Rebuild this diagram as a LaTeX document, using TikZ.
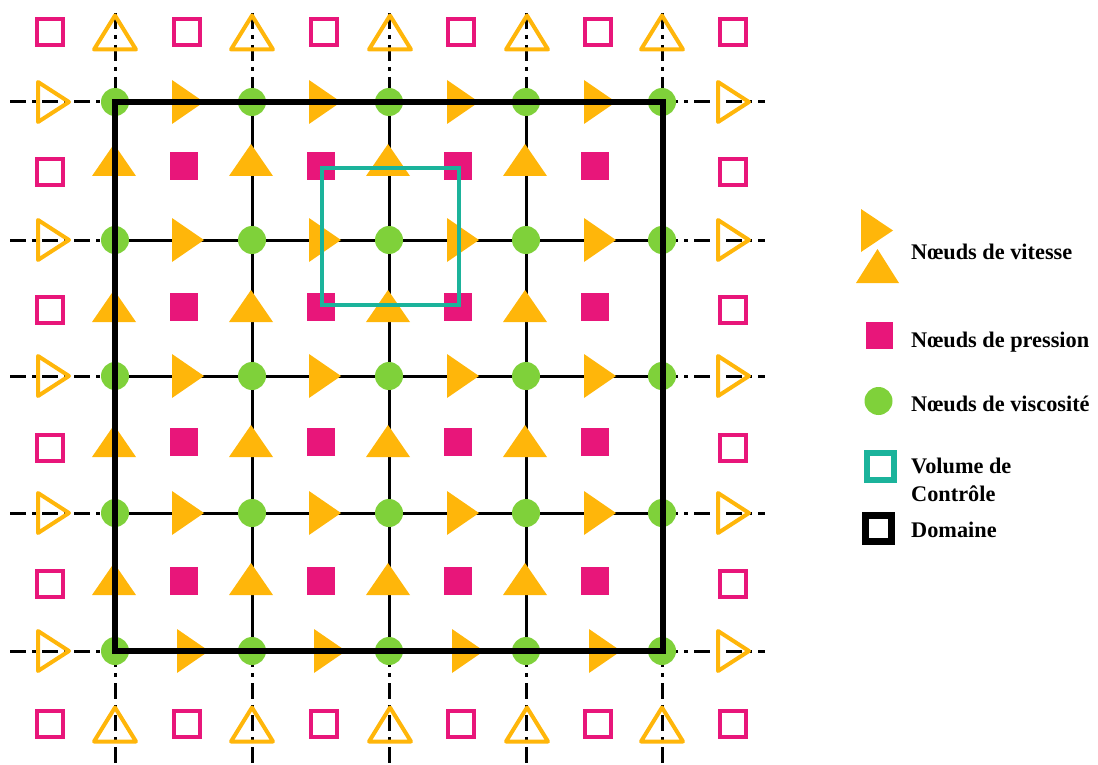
\documentclass[tikz,border=0pt]{standalone}
\usepackage{fontspec}
\setmainfont{Liberation Serif}
\definecolor{pinkc}{RGB}{232,22,122}
\definecolor{orangec}{RGB}{255,182,10}
\definecolor{greenc}{RGB}{127,209,58}
\definecolor{tealc}{RGB}{27,179,155}
\tikzset{
  hsq/.pic={\draw[pinkc,line width=4] (-13,-13) rectangle (13,13);},
  fsq/.pic={\fill[pinkc] (-14,-14) rectangle (14,14);},
  fup/.pic={\fill[orangec] (-22,16) -- (22,16) -- (0,-16) -- cycle;},
  hup/.pic={\draw[orangec,line width=4,line join=round] (-21,17) -- (21,17) -- (0,-17) -- cycle;},
  frt/.pic={\fill[orangec] (0,-22) -- (32,0) -- (0,22) -- cycle;},
  hrt/.pic={\draw[orangec,line width=4,line join=round] (0,-20) -- (31,0) -- (0,20) -- cycle;},
  gdot/.pic={\fill[greenc] (0,0) circle (14);},
  dashdot/.style={line width=3,dash pattern=on 16pt off 6pt on 4pt off 6pt},
  thin/.style={line width=3},
  legtext/.style={anchor=base west,inner sep=0pt,font=\fontsize{22.3}{28}\selectfont\bfseries}
}
\begin{document}
\begin{tikzpicture}[x=1pt,y=-1pt]
\useasboundingbox (0,0) rectangle (1098,765);
% grid coordinates
\foreach \i/\x in {1/115,2/252,3/389,4/526,5/662}{
  \coordinate (vt\i) at (\x,13);
  \coordinate (vb\i) at (\x,765);
}
% dash-dot extensions
\foreach \y/\i in {102/1,240/2,376/3,513/4,651/5}{
  \coordinate (hl\i) at (10,\y);
  \coordinate (hr\i) at (765,\y);
  \coordinate (ga\i) at (115,\y);
  \coordinate (gb\i) at (662,\y);
  \draw[dashdot] (hl\i) -- (ga\i);
  \draw[dashdot] (gb\i) -- (hr\i);
}
\foreach \x/\i in {115/1,252/2,389/3,526/4,662/5}{
  \coordinate (gt\i) at (\x,102);
  \coordinate (gbo\i) at (\x,651);
  \draw[dashdot] (vt\i) -- (gt\i);
  \draw[dashdot] (gbo\i) -- (vb\i);
}
% interior thin lines
\foreach \i in {2,3,4}{
  \draw[thin] (ga\i) -- (gb\i);
  \draw[thin] (gt\i) -- (gbo\i);
}
% outer hollow squares
\foreach \x in {50,187,324,461,598,733}{
  \pic at (\x,32) {hsq};
  \pic at (\x,724) {hsq};
}
\foreach \y in {172,310,448,584}{
  \pic at (50,\y) {hsq};
  \pic at (733,\y) {hsq};
}
% outer hollow up triangles
\foreach \x in {115,252,390,527,662}{
  \pic at (\x,32.5) {hup};
  \pic at (\x,724.5) {hup};
}
% outer hollow right triangles
\foreach \y in {102,240,376,513,651}{
  \pic at (38,\y) {hrt};
  \pic at (718,\y) {hrt};
}
% interior filled squares
\foreach \x in {184,321,458,595}{
  \foreach \y in {166,307,442,581}{
    \pic at (\x,\y) {fsq};
  }
}
% interior filled up triangles
\foreach \x in {114,251,388,525}{
  \foreach \y in {160,306,441,579}{
    \pic at (\x,\y) {fup};
  }
}
% interior filled right triangles
\foreach \y in {102,240,376,513}{
  \foreach \x in {172,309,447,584}{
    \pic at (\x,\y) {frt};
  }
}
\foreach \x in {177,314,452,589}{
  \pic at (\x,651) {frt};
}
% viscosity nodes
\foreach \x in {115,252,389,526,662}{
  \foreach \y in {102,240,376,513,651}{
    \pic at (\x,\y) {gdot};
  }
}
% domain
\draw[line width=6] (115,102) rectangle (663,651);
% control volume
\draw[tealc,line width=4.5] (322,168) rectangle (459,305);
% legend
\fill[orangec] (861,209) -- (893,230.5) -- (861,252) -- cycle;
\fill[orangec] (856,283) -- (899,283) -- (877.5,249) -- cycle;
\node[legtext] (lv) at (911,259) {Nœuds de vitesse};
\fill[pinkc] (866,322) rectangle (893,349);
\node[legtext] (lp) at (911,347) {Nœuds de pression};
\fill[greenc] (878.5,401) circle (14);
\node[legtext] (lvi) at (911,411) {Nœuds de viscosité};
\draw[tealc,line width=6] (866.5,452.5) rectangle (893.5,479.5);
\node[legtext] (lc1) at (911,473) {Volume de};
\node[legtext] (lc2) at (911,501) {Contrôle};
\draw[line width=7] (865.5,515.5) rectangle (891.5,541.5);
\node[legtext] (ld) at (911,537) {Domaine};
\end{tikzpicture}
\end{document}
